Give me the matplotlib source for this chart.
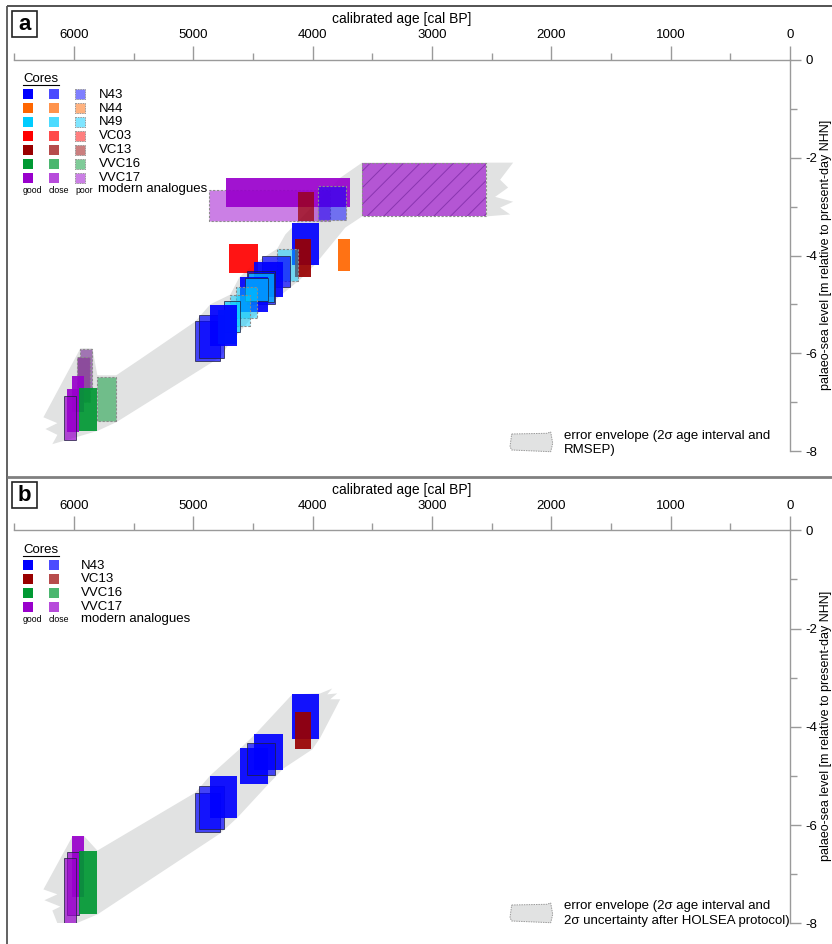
import matplotlib
matplotlib.use('Agg')
import matplotlib.pyplot as plt
from matplotlib.patches import Rectangle, Polygon
from matplotlib.ticker import MultipleLocator, FuncFormatter
from matplotlib.colors import to_rgba

plt.rcParams['font.family'] = ['Liberation Sans', 'DejaVu Sans']
plt.rcParams['axes.unicode_minus'] = False
plt.rcParams['hatch.linewidth'] = 0.7

# ---------------- data ----------------
CORES = ['N43', 'N44', 'N49', 'VC03', 'VC13', 'VVC16', 'VVC17']
CORES_B = ['N43', 'VC13', 'VVC16', 'VVC17']
QUALITIES = ['good', 'close', 'poor']
QUALITIES_B = ['good', 'close']

# panel a: sea-level index points (age old/young in cal BP, top/bottom in m NHN)
A_CORE = ['VVC17', 'VVC17', 'VVC17', 'VC13', 'N43', 'N43', 'VC13', 'N44', 'VC03',
          'N49', 'N43', 'N43', 'N43', 'N49', 'N43', 'N49', 'N49', 'N49', 'N49',
          'N43', 'N43', 'N49', 'N43',
          'VVC17', 'VVC17', 'VVC17', 'VVC17', 'VVC17', 'VVC16', 'VVC16']
A_QUAL = ['poor', 'good', 'poor', 'good', 'poor', 'good', 'good', 'good', 'good',
          'poor', 'close', 'good', 'close', 'close', 'good', 'close', 'poor', 'poor', 'close',
          'close', 'close', 'good', 'good',
          'poor', 'poor', 'good', 'good', 'close', 'poor', 'good']
A_OLD = [4866, 4724, 3585, 4120, 3953, 4171, 4146, 3786, 4698,
         4296, 4422, 4489, 4547, 4539, 4606, 4564, 4640, 4690, 4740,
         4983, 4950, 4791, 4858,
         5946, 5971, 6013, 6055, 6080, 5804, 5955]
A_YOUNG = [3853, 3685, 2546, 3987, 3718, 3945, 4012, 3685, 4455,
           4120, 4188, 4246, 4314, 4322, 4372, 4372, 4464, 4523, 4606,
           4774, 4740, 4631, 4631,
           5846, 5863, 5913, 5955, 5980, 5645, 5804]
A_TOP = [-2.65, -2.41, -2.10, -2.71, -2.57, -3.33, -3.67, -3.67, -3.76,
         -3.86, -4.02, -4.14, -4.32, -4.35, -4.45, -4.47, -4.65, -4.80, -4.94,
         -5.34, -5.21, -5.12, -5.01,
         -5.92, -6.08, -6.47, -6.73, -6.88, -6.49, -6.71]
A_BOTTOM = [-3.29, -3.00, -3.20, -3.29, -3.27, -4.20, -4.43, -4.31, -4.35,
            -4.53, -4.65, -4.84, -4.99, -4.96, -5.16, -4.94, -5.27, -5.45, -5.57,
            -6.15, -6.09, -5.82, -5.85,
            -6.73, -7.00, -7.20, -7.61, -7.78, -7.39, -7.59]

# panel a: error envelope outline (age, m)
A_ENV_AGE = [6256, 5946, 5846, 5804, 5645, 5444, 4983, 4858, 4690, 4615, 4497, 4296,
             4229, 3769, 3585, 2546, 2320, 2429, 2362, 2471, 2320, 2429, 2345, 2546,
             3585, 3727, 3978, 4104, 4330, 4523, 4715, 4774, 5645, 5804, 6181, 6139,
             6239, 6139]
A_ENV_RSL = [-7.31, -5.90, -5.90, -6.45, -6.45, -6.12, -5.35, -5.00, -4.80, -4.45, -4.18,
             -3.86, -3.57, -2.41, -2.10, -2.10, -2.10, -2.45, -2.61, -2.80, -2.90, -3.02,
             -3.16, -3.20, -3.20, -3.43, -4.18, -4.49, -4.94, -5.31, -5.86, -6.08, -7.41,
             -7.59, -7.86, -7.67, -7.55, -7.43]

# panel b: sea-level index points
B_CORE = ['VVC17', 'VVC17', 'VVC17', 'VVC16', 'N43', 'N43', 'N43',
          'N43', 'N43', 'N43', 'N43', 'VC13']
B_QUAL = ['good', 'close', 'close', 'good', 'close', 'close', 'good',
          'good', 'good', 'close', 'good', 'good']
B_OLD = [6013, 6055, 6080, 5955, 4983, 4950, 4858, 4606, 4489, 4547, 4171, 4146]
B_YOUNG = [5913, 5955, 5980, 5804, 4774, 4740, 4631, 4372, 4246, 4314, 3945, 4012]
B_TOP = [-6.23, -6.54, -6.68, -6.52, -5.34, -5.21, -5.01, -4.44, -4.15, -4.32, -3.34, -3.69]
B_BOTTOM = [-7.47, -7.84, -8.00, -7.82, -6.15, -6.09, -5.85, -5.17, -4.87, -4.99, -4.24, -4.46]

B_ENV_AGE = [6256, 6013, 5913, 5804, 4983, 4858, 4606, 4481, 4171, 3936, 3836, 3878,
             3794, 3853, 3769, 3936, 4003, 4246, 4372, 4631, 4774, 5804, 5980, 6139,
             6181, 6114, 6248, 6139]
B_ENV_RSL = [-7.31, -6.23, -6.23, -6.52, -5.34, -4.99, -4.44, -4.15, -3.34, -3.32, -3.22,
             -3.34, -3.32, -3.44, -3.44, -4.22, -4.46, -4.85, -5.17, -5.85, -6.17, -7.82,
             -8.00, -8.00, -7.74, -7.66, -7.53, -7.41]

AGE_TICKS = [6000, 5000, 4000, 3000, 2000, 1000, 0]
RSL_TICKS = [0, -2, -4, -6, -8]

# ---------------- style ----------------
CORE_COLORS = {'N43': '#0000ff', 'N44': '#ff6600', 'N49': '#00ccff', 'VC03': '#ff0000',
               'VC13': '#990000', 'VVC16': '#009933', 'VVC17': '#9900cc'}
QUAL_ALPHA = {'good': 0.92, 'close': 0.7, 'poor': 0.5}
A_STYLE_OVERRIDE = {2: {'hatch': '//', 'alpha': 0.62},
                    3: {'alpha': 0.72},
                    23: {'color': '#a175b3', 'alpha': 1.0},
                    24: {'color': '#8c4c9c', 'alpha': 1.0}}
ENV_COLOR = '#e1e2e2'
AXIS_GREY = '#9a9a9a'

W, H = 832, 944
fig = plt.figure(figsize=(W / 100, H / 100), dpi=100)


def make_axes(top_px, bottom_px):
    left_px, right_px = 14.3, 790.0
    ax = fig.add_axes([left_px / W, (H - bottom_px) / H,
                       (right_px - left_px) / W, (bottom_px - top_px) / H])
    ax.set_xlim(6500, 0)
    ax.set_ylim(-8, 0)
    ax.set_facecolor('none')
    for s in ['left', 'bottom']:
        ax.spines[s].set_visible(False)
    for s in ['top', 'right']:
        ax.spines[s].set_color(AXIS_GREY)
        ax.spines[s].set_linewidth(1.0)
    ax.xaxis.tick_top()
    ax.yaxis.tick_right()
    ax.set_xticks(AGE_TICKS)
    ax.xaxis.set_minor_locator(MultipleLocator(500))
    ax.set_yticks(RSL_TICKS)
    ax.yaxis.set_minor_locator(MultipleLocator(1))
    ax.xaxis.set_major_formatter(FuncFormatter(lambda v, p: f'{int(round(v))}'))
    ax.yaxis.set_major_formatter(FuncFormatter(lambda v, p: f'{int(round(v))}'))
    ax.tick_params(axis='x', which='major', direction='out', length=10, width=1,
                   color=AXIS_GREY, pad=3.5, labelsize=9.5)
    ax.tick_params(axis='x', which='minor', direction='out', length=5, width=1,
                   color=AXIS_GREY)
    ax.tick_params(axis='y', which='major', direction='out', length=8, width=1,
                   color=AXIS_GREY, pad=3, labelsize=9.5)
    ax.tick_params(axis='y', which='minor', direction='out', length=5, width=1,
                   color=AXIS_GREY)
    return ax


def draw_points(ax, cores, quals, olds, youngs, tops, bottoms, overrides):
    for i, (c, q, o, y, t, b) in enumerate(zip(cores, quals, olds, youngs, tops, bottoms)):
        ov = overrides.get(i, {})
        base = ov.get('color', CORE_COLORS[c])
        alpha = ov.get('alpha', QUAL_ALPHA[q])
        face = to_rgba(base, alpha)
        xy, wd, ht = (y, b), o - y, t - b
        if 'hatch' in ov:
            ax.add_patch(Rectangle(xy, wd, ht, facecolor=face, edgecolor='#8a35b0',
                                   hatch=ov['hatch'], linewidth=0, zorder=3))
            ax.add_patch(Rectangle(xy, wd, ht, facecolor='none', edgecolor='#8c8c8c',
                                   linestyle=(0, (2, 1.5)), linewidth=0.8, zorder=3))
            continue
        if q == 'poor':
            ec, ls, lw = '#8c8c8c', (0, (2, 1.5)), 0.8
        elif q == 'close':
            ec, ls, lw = (0.12, 0.12, 0.25, 0.75), '-', 0.7
        else:
            ec, ls, lw = 'none', '-', 0
        ax.add_patch(Rectangle(xy, wd, ht, facecolor=face, edgecolor=ec,
                               linestyle=ls, linewidth=lw, zorder=3))


def draw_envelope(ax, ages, rsl):
    ax.add_patch(Polygon(list(zip(ages, rsl)), closed=True, facecolor=ENV_COLOR,
                         edgecolor='none', zorder=1))


ax_a = make_axes(60.0, 451.0)
draw_envelope(ax_a, A_ENV_AGE, A_ENV_RSL)
draw_points(ax_a, A_CORE, A_QUAL, A_OLD, A_YOUNG, A_TOP, A_BOTTOM, A_STYLE_OVERRIDE)

ax_b = make_axes(530.3, 923.3)
draw_envelope(ax_b, B_ENV_AGE, B_ENV_RSL)
draw_points(ax_b, B_CORE, B_QUAL, B_OLD, B_YOUNG, B_TOP, B_BOTTOM, {})

# ---------------- overlay (frames, legends, labels) in pixel coordinates ----------------
ov = fig.add_axes([0, 0, 1, 1], zorder=5)
ov.set_xlim(0, W)
ov.set_ylim(H, 0)
ov.axis('off')
ov.set_facecolor('none')

ov.plot([7, W], [6, 6], color='#444444', lw=1.3, solid_capstyle='butt')
ov.plot([7, 7], [6, H], color='#555555', lw=1.3, solid_capstyle='butt')
ov.plot([7, W], [477, 477], color='#808080', lw=2.0, solid_capstyle='butt')

ENV_SWATCH_X = [511.7, 546.7, 550.7, 552.7, 550.7, 511.7, 510.0]
ENV_SWATCH_Y = [434.0, 433.3, 432.0, 443.3, 451.7, 450.0, 446.7]


def panel_decor(dy, letter, legend_cores, legend_quals, label_x, env_lines):
    # panel letter
    ov.add_patch(Rectangle((12, 11 + dy), 25, 26, facecolor='white', edgecolor='#222222', lw=1.2))
    ov.text(24.5, 24.5 + dy, letter, ha='center', va='center', fontsize=16, fontweight='bold')
    # axis labels
    ov.text(402, 23 + dy, 'calibrated age [cal BP]', ha='center', va='baseline', fontsize=10)
    ov.text(825.5, 255 + dy, 'palaeo-sea level [m relative to present-day NHN]', rotation=90,
            ha='center', va='center', fontsize=9)
    # cores legend
    ov.text(23, 79 + dy, 'Cores', ha='left', va='center', fontsize=9.5)
    ov.plot([23, 58.5], [85 + dy, 85 + dy], color='black', lw=0.8)
    col_x = [23.3, 49.3, 75.3]
    row0, step = 89.3 + dy, 13.9
    for r, core in enumerate(legend_cores):
        top = row0 + r * step
        for k, q in enumerate(legend_quals):
            face = to_rgba(CORE_COLORS[core], 1.0 if q == 'good' else QUAL_ALPHA[q])
            if q == 'poor':
                ov.add_patch(Rectangle((col_x[k], top), 10, 10, facecolor=face,
                                       edgecolor='#999999', linestyle=(0, (1.5, 1)), lw=0.7))
            else:
                ov.add_patch(Rectangle((col_x[k], top), 10, 10, facecolor=face, edgecolor='none'))
        ov.text(label_x, top + 5.3, core, ha='left', va='center', fontsize=9.5)
    yq = row0 + len(legend_cores) * step + 3.5
    for k, q in enumerate(legend_quals):
        ov.text(col_x[k] - 0.3, yq, q, ha='left', va='center', fontsize=6.3)
    ov.text(label_x, yq - 0.8, 'modern analogues', ha='left', va='center', fontsize=9.5)
    # envelope legend
    ov.add_patch(Polygon(list(zip(ENV_SWATCH_X, [v + dy for v in ENV_SWATCH_Y])), closed=True,
                         facecolor=ENV_COLOR, edgecolor='#9a9a9a', linestyle=(0, (1.5, 1)), lw=0.7))
    ov.text(564, 435.5 + dy, env_lines[0], ha='left', va='center', fontsize=9.5)
    ov.text(564, 450 + dy, env_lines[1], ha='left', va='center', fontsize=9.5)


panel_decor(0, 'a', CORES, QUALITIES, 98.5,
            ['error envelope (2σ age interval and', 'RMSEP)'])
panel_decor(471, 'b', CORES_B, QUALITIES_B, 80.7,
            ['error envelope (2σ age interval and', '2σ uncertainty after HOLSEA protocol)'])

fig.savefig('out.png', dpi=100, facecolor='white')
